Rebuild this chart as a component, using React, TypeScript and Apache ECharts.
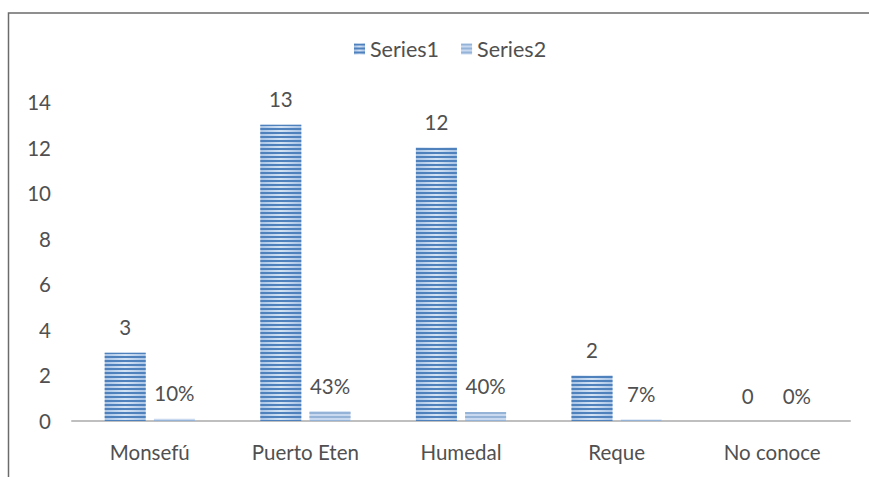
import React, { useEffect, useRef } from "react";
import * as echarts from "echarts";

const categories = ["Monsefú", "Puerto Eten", "Humedal", "Reque", "No conoce"];
const series1Values = [3, 13, 12, 2, 0];
const series2Values = [0.1, 0.43, 0.4, 0.07, 0];
const series2Labels = ["10%", "43%", "40%", "7%", "0%"];
const yTicks = [0, 2, 4, 6, 8, 10, 12, 14];

const FONT = "Lato";
const TXT = "#505050";
const FS = 20.5;

export default function App() {
  const ref = useRef<HTMLDivElement>(null);
  useEffect(() => {
    if (!ref.current) return;
    const chart = echarts.init(ref.current, undefined, { renderer: "svg" });
    const stripe = (color: string) => ({
      symbol: "rect",
      symbolSize: 1,
      dashArrayX: [1, 0],
      dashArrayY: [2, 2],
      rotation: 0,
      color,
    });
    chart.setOption({
      animation: false,
      backgroundColor: "#ffffff",
      textStyle: { fontFamily: FONT },
      graphic: [
        {
          type: "rect",
          shape: { x: 8.5, y: 13, width: 900, height: 500 },
          style: { fill: "none", stroke: "#6b6b6b", lineWidth: 1.5 },
          silent: true,
        },
      ],
      legend: {
        top: 33,
        left: 349,
        itemWidth: 11,
        itemHeight: 11,
        itemGap: 22,
        icon: "rect",
        textStyle: { fontFamily: FONT, fontSize: 21.5, color: TXT },
        data: ["Series1", "Series2"],
      },
      grid: { left: 72, right: 19, top: 102, bottom: 56, containLabel: false },
      xAxis: {
        type: "category",
        data: categories,
        axisLine: { lineStyle: { color: "#bfbfbf", width: 2 } },
        axisTick: { show: false },
        axisLabel: { fontFamily: FONT, fontSize: FS, color: TXT, margin: 20 },
      },
      yAxis: {
        type: "value",
        min: yTicks[0],
        max: yTicks[yTicks.length - 1],
        interval: 2,
        axisLine: { show: false },
        axisTick: { show: false },
        splitLine: { show: false },
        axisLabel: { fontFamily: FONT, fontSize: FS, color: TXT, margin: 21 },
      },
      series: [
        {
          name: "Series1",
          type: "bar",
          data: series1Values,
          barWidth: 41,
          barGap: "20%",
          itemStyle: {
            color: {
              type: "linear",
              x: 0, y: 0, x2: 1, y2: 0,
              colorStops: [
                { offset: 0, color: "#a9c4e6" },
                { offset: 0.5, color: "#d4e3f4" },
                { offset: 1, color: "#a9c4e6" },
              ],
            },
            decal: stripe("#4f81bd"),
          },
          label: {
            show: true,
            position: "top",
            distance: 15,
            fontFamily: FONT,
            fontSize: FS,
            color: TXT,
          },
        },
        {
          name: "Series2",
          type: "bar",
          data: series2Values,
          barWidth: 41,
          itemStyle: {
            color: "#c9daf0",
            decal: stripe("#95b3d7"),
          },
          label: {
            show: true,
            position: "top",
            distance: 15,
            fontFamily: FONT,
            fontSize: FS,
            color: TXT,
            formatter: (p: any) => series2Labels[p.dataIndex],
          },
        },
      ],
    });
    return () => chart.dispose();
  }, []);
  return (
    <div
      ref={ref}
      style={{ position: "fixed", left: 0, top: 0, width: 869, height: 477 }}
    />
  );
}
